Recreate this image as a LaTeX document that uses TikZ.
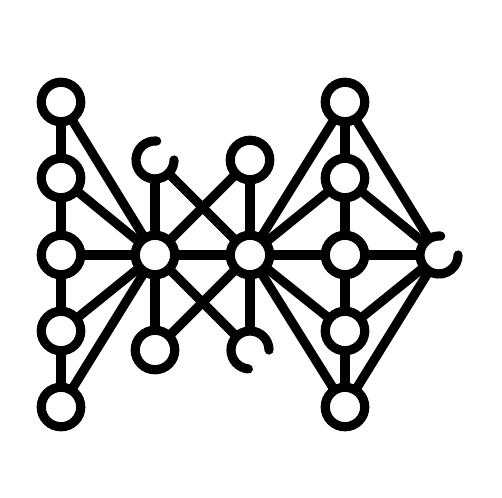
\documentclass[tikz,border=0pt]{standalone}
\begin{document}
\begin{tikzpicture}[x=1pt,y=1pt,
  ring/.style={circle,draw=black,line width=9.2pt,minimum size=39.5pt,inner sep=0pt,outer sep=0pt},
  hook/.style={circle,minimum size=39.5pt,inner sep=0pt,outer sep=0pt},
  link/.style={line width=9.2pt,black},
  hookline/.style={line width=9.2pt,black,line cap=round}]
\useasboundingbox (0,0) rectangle (502,497);
\foreach \n/\px/\py in {a1/61/395,a2/61/319,a3/61/242,a4/61/166,a5/61/90,
  c1/155/242,c2/250/242,t2/250/337,b1/155/147,
  r1/345/395,r2/345/319,r3/345/242,r4/345/166,r5/345/90}
  \node[ring] (\n) at (\px,\py) {};
\node[hook] (t1) at (155,337) {};
\node[hook] (b2) at (250,147) {};
\node[hook] (e) at (439,242) {};
\draw[hookline] ([shift=(85:19pt)]t1.center) arc[start angle=85,end angle=360,radius=19pt];
\draw[hookline] ([shift=(0:19pt)]b2.center) arc[start angle=0,end angle=265,radius=19pt];
\draw[hookline] ([shift=(85:19pt)]e.center) arc[start angle=85,end angle=360,radius=19pt];
\foreach \p/\q in {a1/a2,a2/a3,a3/a4,a4/a5,a1/c1,a2/c1,a3/c1,a4/c1,a5/c1,
  c1/t1,c1/b1,c1/t2,c1/b2,c1/c2,c2/t1,c2/t2,c2/b1,c2/b2,
  c2/r1,c2/r2,c2/r3,c2/r4,c2/r5,
  r1/r2,r2/r3,r3/r4,r4/r5,r1/e,r2/e,r3/e,r4/e,r5/e}
  \draw[link] (\p) -- (\q);
\end{tikzpicture}
\end{document}
